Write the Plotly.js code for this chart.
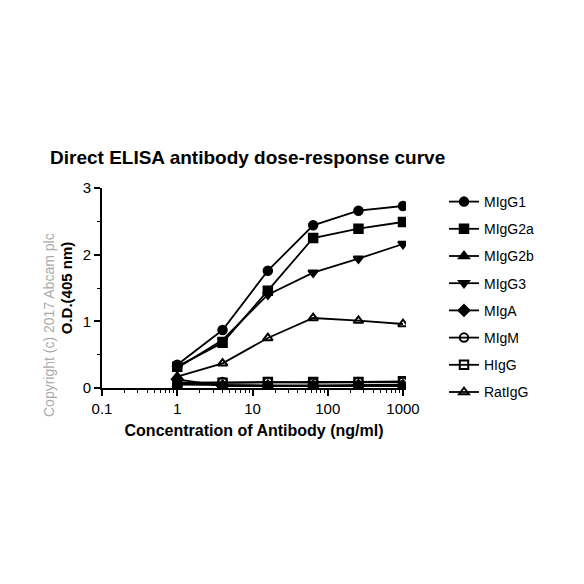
<!DOCTYPE html>
<html>
<head>
<meta charset="utf-8">
<script src="https://cdn.plot.ly/plotly-3.0.1.min.js"></script>
<style>html,body{margin:0;padding:0;background:#fff;}#chart{width:584px;height:584px;}</style>
</head>
<body>
<div id="chart"></div>
<script>
const concentrations = [1, 4, 16, 64, 256, 1000];
const seriesNames = ["MIgG1", "MIgG2a", "MIgG2b", "MIgG3", "MIgA", "MIgM", "HIgG", "RatIgG"];
const mIgG1 = [0.35, 0.87, 1.76, 2.44, 2.66, 2.73];
const mIgG2a = [0.32, 0.68, 1.46, 2.25, 2.39, 2.49];
const mIgG2b = [0.05, 0.04, 0.04, 0.04, 0.04, 0.05];
const mIgG3 = [0.30, 0.72, 1.40, 1.73, 1.94, 2.16];
const mIgA = [0.13, 0.03, 0.03, 0.03, 0.04, 0.03];
const mIgM = [0.08, 0.09, 0.09, 0.08, 0.09, 0.09];
const hIgG = [0.07, 0.08, 0.09, 0.09, 0.09, 0.10];
const ratIgG = [0.17, 0.37, 0.75, 1.05, 1.01, 0.96];
const seriesValues = [mIgG1, mIgG2a, mIgG2b, mIgG3, mIgA, mIgM, hIgG, ratIgG];
const symbols = ["circle", "square", "triangle-up", "triangle-down", "diamond", "circle-open", "square-open", "triangle-up-open"];

const traces = seriesNames.map((name, i) => ({
  x: concentrations,
  y: seriesValues[i],
  name: name,
  legendgroup: name,
  type: "scatter",
  mode: "lines+markers",
  line: {color: "#000", width: 1.8},
  marker: {symbol: symbols[i], size: 8.5, color: "#000", line: {color: "#000", width: 2}}
}));

const font = "Liberation Sans, Arial, sans-serif";
const layout = {
  width: 584, height: 584,
  paper_bgcolor: "#fff", plot_bgcolor: "#fff",
  margin: {l: 102, r: 178, t: 188, b: 196},
  font: {family: font, color: "#000", size: 14},
  title: {text: "<b>Direct ELISA antibody dose-response curve</b>", x: 50/584, xanchor: "left", y: 1 - 157/584, yanchor: "middle", font: {family: font, size: 19, color: "#000"}},
  xaxis: {
    type: "log", range: [-1, 3.04], showgrid: false, zeroline: false,
    showline: true, linecolor: "#000", linewidth: 2,
    ticks: "outside", ticklen: 6, tickwidth: 2, tickcolor: "#000",
    tickvals: [0.1, 1, 10, 100, 1000], ticktext: ["0.1", "1", "10", "100", "1000"],
    minor: {ticks: "outside", ticklen: 3, tickwidth: 1, tickcolor: "#000", dtick: "D1", showgrid: false},
    tickfont: {family: font, size: 15},
    title: {text: "<b>Concentration of Antibody (ng/ml)</b>", font: {family: font, size: 16}, standoff: 9}
  },
  yaxis: {
    range: [0, 3], showgrid: false, zeroline: false,
    showline: true, linecolor: "#000", linewidth: 2,
    ticks: "outside", ticklen: 6, tickwidth: 2, tickcolor: "#000",
    dtick: 1, tick0: 0,
    minor: {ticks: "outside", ticklen: 3, tickwidth: 1, tickcolor: "#000", dtick: 0.5, showgrid: false},
    tickfont: {family: font, size: 15},
    title: {text: "<b>O.D.(405 nm)</b>", font: {family: font, size: 15}, standoff: 6}
  },
  showlegend: true,
  legend: {x: (444 - 102) / 304, xanchor: "left", y: 1.01, yanchor: "top", tracegroupgap: 6,
    font: {family: font, size: 14, color: "#000"}, bgcolor: "rgba(0,0,0,0)", itemwidth: 30},
  annotations: [{
    text: "Copyright (c) 2017 Abcam plc", textangle: -90, showarrow: false,
    xref: "paper", yref: "paper", x: (49 - 102) / 304, y: (388 - 325) / 200,
    xanchor: "center", yanchor: "middle",
    font: {family: font, size: 14, color: "#aaaaaa"}
  }]
};

Plotly.newPlot("chart", traces, layout, {displayModeBar: false, staticPlot: true});
</script>
</body>
</html>
